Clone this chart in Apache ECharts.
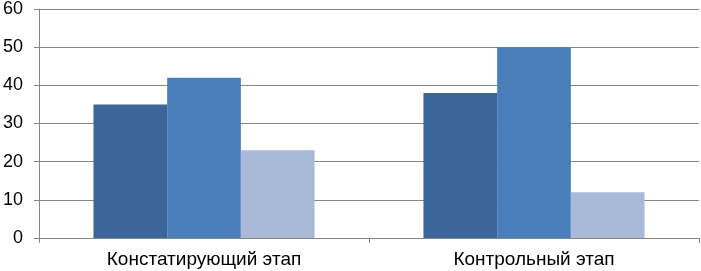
<!DOCTYPE html>
<html><head><meta charset="utf-8">
<script src="https://cdn.jsdelivr.net/npm/echarts@6/dist/echarts.min.js"></script>
<style>html,body{margin:0;padding:0;background:#fff}#c{width:701px;height:271px}</style>
</head><body><div id="c"></div>
<script>
var categories = ['Констатирующий этап', 'Контрольный этап'];
var series1 = [35, 38];
var series2 = [42, 50];
var series3 = [23, 12];
var yTicks = [0, 10, 20, 30, 40, 50, 60];

var chart = echarts.init(document.getElementById('c'), null, {renderer: 'canvas'});
var font = '"Liberation Sans", Arial, sans-serif';
chart.setOption({
  animation: false,
  grid: {left: 36, right: 2, top: 7, bottom: 33, containLabel: false},
  xAxis: {
    type: 'category', data: categories,
    axisLine: {lineStyle: {color: '#868686', width: 1}},
    axisTick: {show: true, length: 5, lineStyle: {color: '#868686'}},
    axisLabel: {color: '#000', fontFamily: font, fontSize: 19, margin: 12}
  },
  yAxis: {
    type: 'value', min: yTicks[0], max: yTicks[yTicks.length - 1], interval: 10,
    axisLine: {show: true, lineStyle: {color: '#868686', width: 1}},
    axisTick: {show: true, length: 5, lineStyle: {color: '#868686'}},
    splitLine: {show: true, lineStyle: {color: '#868686', width: 1}},
    axisLabel: {color: '#000', fontFamily: font, fontSize: 18, margin: 16}
  },
  series: [
    {type: 'bar', data: series1, barGap: '0%', barCategoryGap: '33%', itemStyle: {color: '#3D6597'}},
    {type: 'bar', data: series2, barGap: '0%', barCategoryGap: '33%', itemStyle: {color: '#4A7EBB'}},
    {type: 'bar', data: series3, barGap: '0%', barCategoryGap: '33%', itemStyle: {color: '#A9BAD9'}}
  ]
});
</script></body></html>
